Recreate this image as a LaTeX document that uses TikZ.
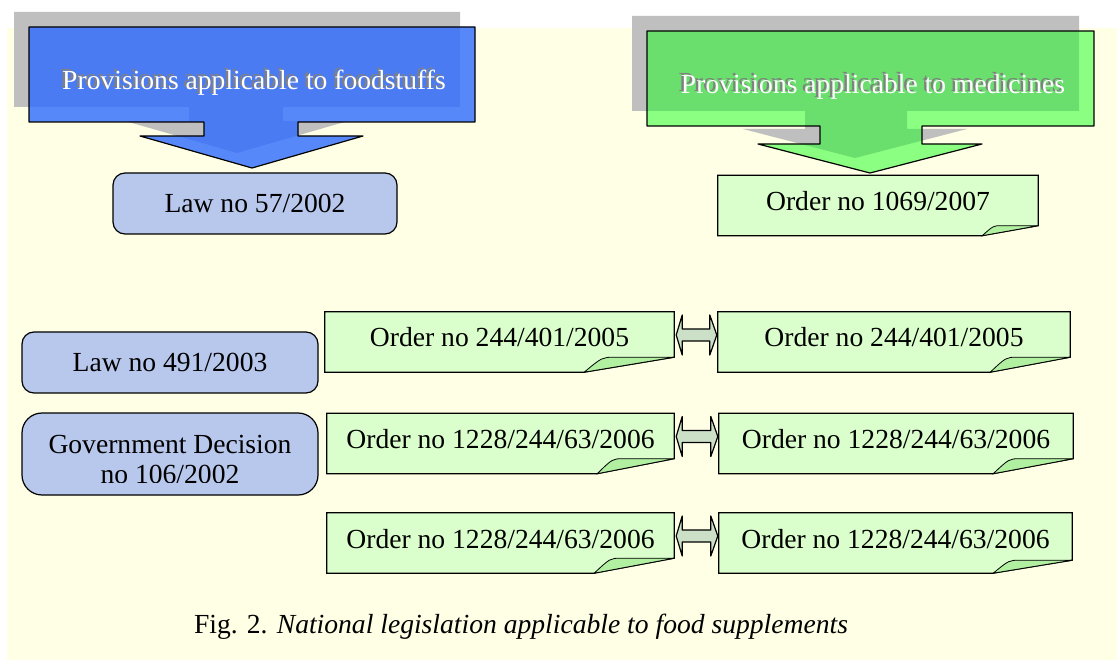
\documentclass[tikz,border=0pt]{standalone}
\usepackage{fontspec}
\setmainfont{Liberation Serif}
\usetikzlibrary{calc,backgrounds}
\definecolor{ffffe6}{rgb}{1,1,0.9}
\definecolor{cqcqcq}{rgb}{0.75,0.75,0.75}
\definecolor{qqyyff}{rgb}{0.18,0.42,1}
\definecolor{qqffqq}{rgb}{0.1,1,0.12}
\definecolor{ddffcc}{rgb}{0.86,1,0.8}
\definecolor{bbffaa}{rgb}{0.7,0.94,0.63}
\definecolor{bbccee}{rgb}{0.72,0.78,0.925}
\definecolor{ccddcc}{rgb}{0.8,0.88,0.78}
\newcommand{\shadowtext}[1]{\makebox[0pt][l]{\kern-2.5pt\raisebox{2pt}{\textcolor{gray}{#1}}}\textcolor{white}{#1}}
\begin{document}
\begin{tikzpicture}[line cap=round,line join=round,x=1pt,y=-1pt,
	every node/.style={font=\fontsize{27.6}{30}\selectfont},
	order/.style={minimum height=60pt,inner sep=0pt,text height=19pt,text depth=9pt},
	law/.style={draw,line width=1.2pt,rounded corners=12pt,fill=bbccee,inner sep=0pt},
	dblarr/.style={draw,line width=1.2pt,fill=ccddcc}]
	\useasboundingbox (0,0) rectangle (1117,660);
	\begin{scope}[on background layer]
		\fill[white] (0,0) rectangle (1117,660);
		\fill[ffffe6] (7,28) rectangle (1117,660);
	\end{scope}
	% callouts
	\foreach \d/\c/\o/\e in {-15/cqcqcq/1/none,0/qqyyff/0.8/black}
		\filldraw[fill=\c,fill opacity=\o,draw=\e,line width=1.2pt,shift={(\d,\d)}] (29,27) -- (475,27) -- (475,122) -- (298,122) -- (298,136) -- (363,136) -- (252,168) -- (140,136) -- (204,136) -- (204,122) -- (29,122) -- cycle;
	\foreach \d/\c/\o/\e in {-15/cqcqcq/1/none,0/qqffqq/0.5/black}
		\filldraw[fill=\c,fill opacity=\o,draw=\e,line width=1.2pt,shift={(\d,\d)}] (647,31) -- (1094,31) -- (1094,126) -- (922,126) -- (922,144) -- (982,144) -- (870,173) -- (758,144) -- (820,144) -- (820,126) -- (647,126) -- cycle;
	\node (food) at (254,82) {\shadowtext{Provisions applicable to foodstuffs}};
	\node (med) at (873,86) {\shadowtext{Provisions applicable to medicines}};
	% left column
	\node[law,minimum width=284pt,minimum height=61pt] (law57) at (255,203.5) {Law no 57/2002};
	\node[law,minimum width=296pt,minimum height=61pt] (law491) at (170,362.5) {Law no 491/2003};
	\node[law,rounded corners=20pt,minimum width=296pt,minimum height=82pt] (gd106) at (170,454) {};
	\begin{scope}
		\clip (gd106.north west) rectangle ($(gd106.south east)+(0,-13)$);
		\node[align=center] (gdtext) at (170,459) {Government Decision\\no 106/2002};
	\end{scope}
	% orders
	\node[order,minimum width=320pt] (o1069) at (878,205.5) {Order no 1069/2007};
	\node[order,minimum width=349pt] (oL1) at (499.5,342) {Order no 244/401/2005};
	\node[order,minimum width=352pt] (oR1) at (894,342) {Order no 244/401/2005};
	\node[order,minimum width=347pt] (oL2) at (500.5,443.5) {Order no 1228/244/63/2006};
	\node[order,minimum width=354pt] (oR2) at (896,443.5) {Order no 1228/244/63/2006};
	\node[order,minimum width=347pt] (oL3) at (500.5,543) {Order no 1228/244/63/2006};
	\node[order,minimum width=353pt] (oR3) at (895.5,543) {Order no 1228/244/63/2006};
	\begin{scope}[on background layer]
		\foreach \n/\f/\h in {o1069/56/10,oL1/90/15,oR1/80/15,oL2/77/15,oR2/80/15,oL3/80/15,oR3/79/13} {
			\filldraw[fill=ddffcc,line width=1.2pt] (\n.north west) -- (\n.north east) -- ($(\n.south east)+(0,-\h)$) -- ($(\n.south east)+(-\f,0)$) -- (\n.south west) -- cycle;
			\filldraw[fill=bbffaa,line width=0.8pt] ($(\n.south east)+(-\f,0)$) .. controls ($(\n.south east)+(-0.8*\f,-\h)$) .. ($(\n.south east)+(-0.66*\f,-\h)$) -- ($(\n.south east)+(0,-\h)$) -- cycle;
		}
	\end{scope}
	\foreach \a/\b in {oL1/oR1,oL2/oR2,oL3/oR3}
		\draw[dblarr] ($(\a.east)+(2,-7)$) -- ($(\a.east)+(8,-27)$) -- ($(\a.east)+(8,-13)$) -- ($(\b.west)+(-8,-13)$) -- ($(\b.west)+(-8,-27)$) -- ($(\b.west)+(-1,-7)$) -- ($(\b.west)+(-8,13)$) -- ($(\b.west)+(-8,-1)$) -- ($(\a.east)+(8,-1)$) -- ($(\a.east)+(8,13)$) -- cycle;
	% caption
	\node (caption) at (521,627) {Fig. 2. \textit{National legislation applicable to food supplements}};
\end{tikzpicture}
\end{document}
